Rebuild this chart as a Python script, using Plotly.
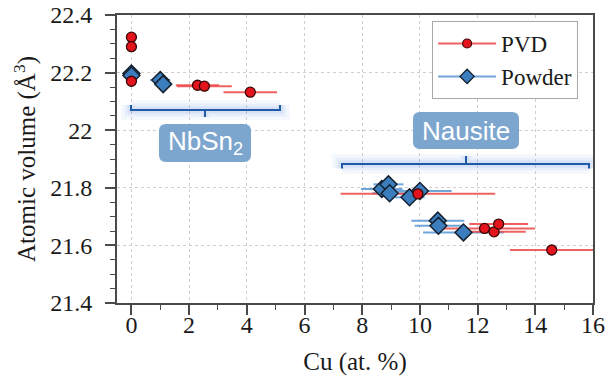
import plotly.graph_objects as go

# ---------------- data ----------------
pvd_x = [0, 0, 0, 2.29, 2.53, 4.12, 9.93, 12.24, 12.57, 12.73, 14.57]
pvd_y = [22.323, 22.290, 22.170, 22.156, 22.153, 22.132, 21.779, 21.659, 21.647, 21.674, 21.584]
pvd_xerr = [0, 0, 0, 0.75, 0.95, 0.93, 2.68, 1.75, 1.10, 1.02, 1.45]

powder_x = [0, 0, 1.0, 1.1, 8.68, 8.91, 8.95, 9.64, 10.0, 10.62, 10.64, 11.51]
powder_y = [22.197, 22.190, 22.174, 22.160, 21.796, 21.812, 21.781, 21.767, 21.789, 21.686, 21.668, 21.645]
powder_xerr = [0, 0, 0.35, 0.30, 0.72, 0.52, 0.60, 0.52, 1.10, 0.92, 0.82, 1.40]

x_ticks = [0, 2, 4, 6, 8, 10, 12, 14, 16]
y_ticks = [21.4, 21.6, 21.8, 22.0, 22.2, 22.4]
y_ticktext = ["21.4", "21.6", "21.8", "22", "22.2", "22.4"]

series_names = ["PVD", "Powder"]
group_labels = ["NbSn<sub>2</sub>", "Nausite"]

# ---------------- style ----------------
RED = "#e3141c"
RED_BAR = "rgba(236,70,70,0.85)"
BLUE = "#3b7dbd"
BLUE_BAR = "rgba(85,150,212,0.85)"
BRACKET = "#1f5aa6"
BOX = "#7da6cf"
SERIF = "Liberation Serif"
SANS = "Liberation Sans"
INK = "#1a1a1a"

W, H = 610, 376
L, R, T, B = 117, 17, 15, 73
XR = [-0.5, 16]
YR = [21.4, 22.4]


def px2x(px):
    return XR[0] + (px - L) / (W - L - R) * (XR[1] - XR[0])


def py2y(py):
    return YR[1] - (py - T) / (H - T - B) * (YR[1] - YR[0])


fig = go.Figure()

# error bars first (under all markers)
fig.add_trace(go.Scatter(
    x=powder_x, y=powder_y, mode="markers", showlegend=False, hoverinfo="skip",
    marker=dict(opacity=0, size=1),
    error_x=dict(type="data", array=powder_xerr, color=BLUE_BAR, thickness=2, width=0)))
fig.add_trace(go.Scatter(
    x=pvd_x, y=pvd_y, mode="markers", showlegend=False, hoverinfo="skip",
    marker=dict(opacity=0, size=1),
    error_x=dict(type="data", array=pvd_xerr, color=RED_BAR, thickness=2, width=0)))

# markers
fig.add_trace(go.Scatter(
    x=powder_x, y=powder_y, mode="markers", showlegend=False,
    marker=dict(symbol="diamond", size=13, color=BLUE, line=dict(color="#15202e", width=1.5))))
fig.add_trace(go.Scatter(
    x=pvd_x, y=pvd_y, mode="markers", showlegend=False,
    marker=dict(symbol="circle", size=10, color=RED, line=dict(color="#3a0505", width=1.3))))

# legend entries
fig.add_trace(go.Scatter(
    x=[None], y=[None], mode="lines+markers", name=series_names[0],
    line=dict(color=RED_BAR, width=2),
    marker=dict(symbol="circle", size=9, color=RED, line=dict(color="#3a0505", width=1.2))))
fig.add_trace(go.Scatter(
    x=[None], y=[None], mode="lines+markers", name=series_names[1],
    line=dict(color=BLUE_BAR, width=2),
    marker=dict(symbol="diamond", size=11, color=BLUE, line=dict(color="#15202e", width=1.3))))

shapes = []


def bracket(x0, x1, xm, yb, yend, ytick):
    p = f"M {x0},{yend} L {x0},{yb} L {x1},{yb} L {x1},{yend} M {xm},{yb} L {xm},{ytick}"
    for w, a in [(20, 0.07), (13, 0.09), (7, 0.14)]:
        shapes.append(dict(type="path", path=p, xref="x", yref="y", layer="above",
                           line=dict(color=f"rgba(110,150,225,{a})", width=w)))
    shapes.append(dict(type="path", path=p, xref="x", yref="y", layer="above",
                       line=dict(color=BRACKET, width=2)))


def rbox(px0, px1, py0, py1, r=7):
    x0, x1 = px2x(px0), px2x(px1)
    y0, y1 = py2y(py1), py2y(py0)  # bottom, top
    rx = r / (W - L - R) * (XR[1] - XR[0])
    ry = r / (H - T - B) * (YR[1] - YR[0])
    p = (f"M {x0+rx},{y0} L {x1-rx},{y0} Q {x1},{y0} {x1},{y0+ry} "
         f"L {x1},{y1-ry} Q {x1},{y1} {x1-rx},{y1} L {x0+rx},{y1} "
         f"Q {x0},{y1} {x0},{y1-ry} L {x0},{y0+ry} Q {x0},{y0} {x0+rx},{y0} Z")
    shapes.append(dict(type="path", path=p, xref="x", yref="y", layer="above",
                       fillcolor=BOX, line=dict(width=0)))
    return (x0 + x1) / 2, (y0 + y1) / 2


# NbSn2 bracket and label
bracket(px2x(131), px2x(280), px2x(205), py2y(110), py2y(105), py2y(117))
cx1, cy1 = rbox(159, 251, 124, 162)
# Nausite bracket and label
bracket(px2x(342), px2x(589), px2x(466), py2y(164), py2y(168.5), py2y(156))
cx2, cy2 = rbox(413, 519, 112, 149)

annotations = [
    dict(x=cx1, y=cy1, xref="x", yref="y", text=group_labels[0], showarrow=False,
         font=dict(family=SANS, size=26, color="white"), yshift=1),
    dict(x=cx2, y=cy2, xref="x", yref="y", text=group_labels[1], showarrow=False,
         font=dict(family=SANS, size=26, color="white")),
]

axis_common = dict(
    automargin=False,
    showline=True, linecolor="#4a4a4a", linewidth=2, mirror=True,
    ticks="outside", ticklen=10, tickwidth=1.5, tickcolor="#4a4a4a",
    showgrid=True, gridcolor="#cfcfcf", griddash="dot", gridwidth=1,
    zeroline=False,
    tickfont=dict(family=SERIF, size=24, color=INK),
)

fig.update_layout(
    width=W, height=H,
    margin=dict(l=L, r=R, t=T, b=B, autoexpand=False),
    paper_bgcolor="white", plot_bgcolor="white",
    shapes=shapes, annotations=annotations,
    xaxis=dict(range=XR, tickvals=x_ticks, ticklabelstandoff=-11,
               minor=dict(dtick=1, ticks="outside", ticklen=5, tickwidth=1.2, tickcolor="#4a4a4a", showgrid=False),
               title=dict(text="Cu (at. %)", font=dict(family=SERIF, size=25, color=INK), standoff=17),
               **axis_common),
    yaxis=dict(range=YR, tickvals=y_ticks, ticktext=y_ticktext, ticklabelstandoff=8,
               minor=dict(dtick=0.05, ticks="outside", ticklen=5, tickwidth=1.2, tickcolor="#4a4a4a", showgrid=False),
               title=dict(text="Atomic volume (Å<sup>3</sup>)", font=dict(family=SERIF, size=25, color=INK), standoff=7),
               **axis_common),
    legend=dict(x=0.662, y=0.979, xanchor="left", yanchor="top",
                bgcolor="white", bordercolor="#a8a8a8", borderwidth=1,
                font=dict(family=SERIF, size=23, color=INK),
                itemwidth=58, tracegroupgap=0),
    showlegend=True,
)

fig.write_html("out.html", config={"displayModeBar": False},
               post_script="document.body.style.margin='0px';document.body.style.padding='0px';")
